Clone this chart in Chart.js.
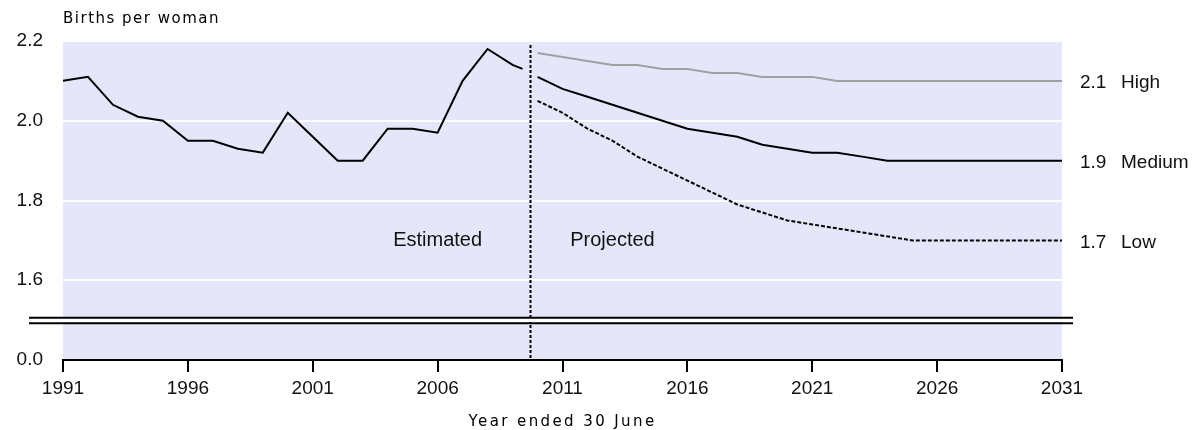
<!DOCTYPE html>
<html>
<head>
<meta charset="utf-8">
<script src="https://cdn.jsdelivr.net/npm/chart.js@4/dist/chart.umd.min.js"></script>
<style>
  html, body { margin: 0; padding: 0; background: #fff; }
  #wrap { width: 1197px; height: 430px; }
</style>
</head>
<body>
<div id="wrap"><canvas id="tfrChart" width="1197" height="430"></canvas></div>
<script>
// --- data ---
const estYears  = [1991,1992,1993,1994,1995,1996,1997,1998,1999,2000,2001,2002,2003,2004,2005,2006,2007,2008,2009,2009.4];
const estValues = [2.10,2.11,2.04,2.01,2.00,1.95,1.95,1.93,1.92,2.02,1.96,1.90,1.90,1.98,1.98,1.97,2.10,2.18,2.14,2.13];

const projYears = [2010,2011,2012,2013,2014,2015,2016,2017,2018,2019,2020,2021,2022,2023,2024,2025,2026,2027,2028,2029,2030,2031];
const highValues   = [2.17,2.16,2.15,2.14,2.14,2.13,2.13,2.12,2.12,2.11,2.11,2.11,2.10,2.10,2.10,2.10,2.10,2.10,2.10,2.10,2.10,2.10];
const mediumValues = [2.11,2.08,2.06,2.04,2.02,2.00,1.98,1.97,1.96,1.94,1.93,1.92,1.92,1.91,1.90,1.90,1.90,1.90,1.90,1.90,1.90,1.90];
const lowValues    = [2.05,2.02,1.98,1.95,1.91,1.88,1.85,1.82,1.79,1.77,1.75,1.74,1.73,1.72,1.71,1.70,1.70,1.70,1.70,1.70,1.70,1.70];

const seriesNames = ['High','Medium','Low'];
const xTicks = [1991,1996,2001,2006,2011,2016,2021,2026,2031];
const yTicks = [1.4,1.6,1.8,2.0,2.2];          // 1.4 is where "0.0" sits below the axis break
const yTickLabels = ['0.0','1.6','1.8','2.0','2.2'];
const breakAt = 1.5;                            // axis break drawn here
const dividerYear = 2009.7;                     // estimated / projected split

const toPts = (xs, ys) => xs.map((x, i) => ({x: x, y: ys[i]}));

// --- decorations: background, divider, axis break, texts ---
const decor = {
  id: 'decor',
  beforeDraw(chart) {
    const {ctx, chartArea: a} = chart;
    ctx.save();
    ctx.fillStyle = '#e6e6fa';
    ctx.fillRect(a.left, a.top, a.right - a.left, a.bottom - a.top);
    ctx.restore();
  },
  afterDatasetsDraw(chart) {
    const {ctx, chartArea: a, scales: {x, y}} = chart;
    ctx.save();

    // vertical divider
    const dx = Math.round(x.getPixelForValue(dividerYear)) + 0.5;
    ctx.strokeStyle = '#000';
    ctx.lineWidth = 2;
    ctx.setLineDash([3, 2]);
    ctx.beginPath();
    ctx.moveTo(dx, a.top + 4);
    ctx.lineTo(dx, a.bottom);
    ctx.stroke();
    ctx.setLineDash([]);

    // axis break
    const by = y.getPixelForValue(breakAt);
    ctx.fillStyle = '#fff';
    ctx.fillRect(a.left - 34, by - 2, a.right - a.left + 45, 4);
    ctx.strokeStyle = '#000';
    ctx.lineWidth = 2;
    [by - 2.5, by + 3].forEach(yy => {
      ctx.beginPath();
      ctx.moveTo(a.left - 34, yy);
      ctx.lineTo(a.right + 11, yy);
      ctx.stroke();
    });

    // Estimated / Projected
    ctx.fillStyle = '#111';
    ctx.font = '20px "Liberation Sans", Arial, sans-serif';
    ctx.textAlign = 'center';
    ctx.textBaseline = 'middle';
    ctx.fillText('Estimated', x.getPixelForValue(2006), y.getPixelForValue(1.70));
    ctx.fillText('Projected', x.getPixelForValue(2013), y.getPixelForValue(1.70));

    // right-hand series labels
    ctx.font = '19px "Liberation Sans", Arial, sans-serif';
    ctx.textAlign = 'left';
    [highValues, mediumValues, lowValues].forEach((vals, i) => {
      const v = vals[vals.length - 1];
      const ly = y.getPixelForValue(v) + 2;
      ctx.fillText(v.toFixed(1), a.right + 18, ly);
      ctx.fillText(seriesNames[i], a.right + 59, ly);
    });

    // axis titles
    ctx.fillStyle = '#000';
    ctx.font = '15px "DejaVu Sans", Verdana, sans-serif';
    ctx.letterSpacing = '1.5px';
    ctx.textAlign = 'left';
    ctx.fillText('Births per woman', a.left, 19);
    ctx.letterSpacing = '2.4px';
    ctx.textAlign = 'center';
    ctx.fillText('Year ended 30 June', (a.left + a.right) / 2, 422);
    ctx.letterSpacing = '0px';
    ctx.restore();
  }
};

const lineBase = {pointRadius: 0, borderWidth: 2, tension: 0, fill: false};

new Chart(document.getElementById('tfrChart'), {
  type: 'line',
  data: {
    datasets: [
      Object.assign({label: 'Estimated', data: toPts(estYears, estValues), borderColor: '#000'}, lineBase),
      Object.assign({label: 'High', data: toPts(projYears, highValues), borderColor: '#a0a0a0'}, lineBase),
      Object.assign({label: 'Medium', data: toPts(projYears, mediumValues), borderColor: '#000'}, lineBase),
      Object.assign({label: 'Low', data: toPts(projYears, lowValues), borderColor: '#000', borderDash: [4, 2]}, lineBase)
    ]
  },
  options: {
    responsive: false,
    animation: false,
    devicePixelRatio: 1,
    layout: {padding: {left: 0, right: 135, top: 41, bottom: 0}},
    plugins: {legend: {display: false}, tooltip: {enabled: false}},
    scales: {
      x: {
        type: 'linear',
        min: 1991,
        max: 2031,
        afterBuildTicks: s => { s.ticks = xTicks.map(v => ({value: v})); },
        afterFit: s => { s.height = 70; },
        ticks: {
          callback: v => String(v),
          color: '#111',
          padding: 5,
          maxRotation: 0,
          font: {family: '"Liberation Sans", Arial, sans-serif', size: 19}
        },
        grid: {drawOnChartArea: false, drawTicks: true, tickLength: 12, color: '#000', lineWidth: 2},
        border: {display: true, color: '#000', width: 2}
      },
      y: {
        min: 1.4,
        max: 2.2,
        afterBuildTicks: s => { s.ticks = yTicks.map(v => ({value: v})); },
        afterFit: s => { s.width = 63; },
        ticks: {
          callback: (v, i) => yTickLabels[i],
          color: '#111',
          padding: 20,
          font: {family: '"Liberation Sans", Arial, sans-serif', size: 19}
        },
        grid: {
          drawTicks: false,
          lineWidth: 2,
          color: c => (c.tick && c.tick.value === yTicks[0]) ? 'rgba(0,0,0,0)' : '#fff'
        },
        border: {display: false}
      }
    }
  },
  plugins: [decor]
});
</script>
</body>
</html>
